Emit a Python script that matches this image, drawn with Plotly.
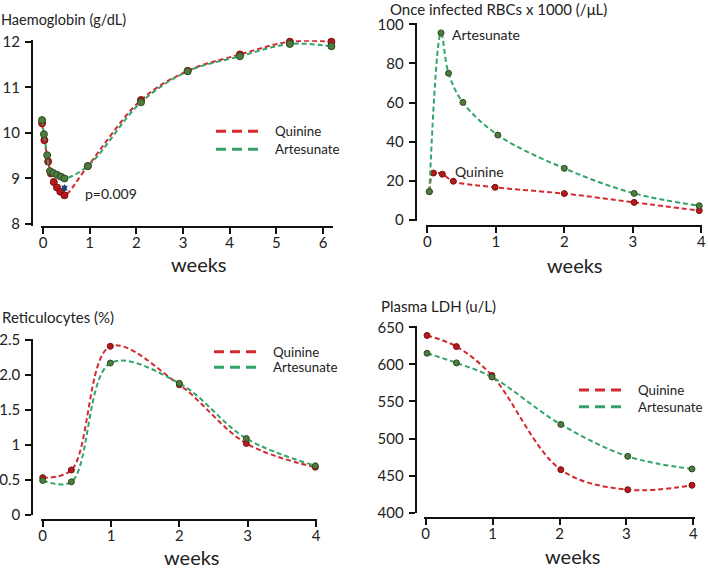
import plotly.graph_objects as go

# ---------------- data ----------------
hb_weeks_q = [-0.02, 0.03, 0.11, 0.17, 0.23, 0.30, 0.37, 0.46, 0.96, 2.10, 3.10, 4.22, 5.29, 6.18]
hb_quinine = [10.21, 9.84, 9.37, 9.11, 8.92, 8.80, 8.71, 8.63, 9.27, 10.72, 11.36, 11.72, 12.0, 12.0]
hb_weeks_a = [-0.02, 0.02, 0.09, 0.15, 0.22, 0.30, 0.38, 0.46, 0.96, 2.10, 3.10, 4.22, 5.29, 6.18]
hb_artesunate = [10.28, 9.97, 9.51, 9.16, 9.12, 9.08, 9.04, 9.00, 9.27, 10.67, 11.35, 11.68, 11.95, 11.90]
hb_ticks = [0, 1, 2, 3, 4, 5, 6]
hb_yticks = [8, 9, 10, 11, 12]

rbc_weeks_q = [0.03, 0.09, 0.22, 0.38, 0.99, 2.00, 3.02, 3.97]
rbc_quinine = [14.5, 24.0, 23.4, 19.8, 16.7, 13.5, 9.0, 4.8]
rbc_weeks_a = [0.03, 0.20, 0.31, 0.52, 1.03, 2.00, 3.02, 3.97]
rbc_artesunate = [14.5, 95.6, 75.0, 60.1, 43.4, 26.4, 13.6, 7.3]
rbc_yticks = [0, 20, 40, 60, 80, 100]

ret_weeks = [0.0, 0.42, 0.99, 2.00, 2.98, 3.99]
ret_quinine = [0.53, 0.64, 2.41, 1.86, 1.02, 0.68]
ret_artesunate = [0.49, 0.47, 2.17, 1.88, 1.09, 0.70]
ret_yticks = [0, 0.5, 1, 1.5, 2, 2.5]
ret_yticktext = ["0", "0.5", "1", "1.5", "2.0", "2.5"]

ldh_weeks = [0.02, 0.46, 0.99, 2.02, 3.02, 3.98]
ldh_quinine = [639, 624, 585, 458, 431, 437]
ldh_artesunate = [615, 602, 583, 519, 476, 459]
ldh_yticks = [400, 450, 500, 550, 600, 650]

week_ticks4 = [0, 1, 2, 3, 4]
p_value_text = "p=0.009"

# ---------------- styling / layout helpers ----------------
W, H = 708, 568
FONT = "Lato"
RED_LINE, GREEN_LINE = "#d22a2f", "#33a468"
RED_MK, GREEN_MK = "#b5191e", "#4f7c3c"
RED_MK_EDGE, GREEN_MK_EDGE = "#7a1010", "#2e4a25"


def fx(px):
    return px / W


def fy(py):
    return 1 - py / H


def xdomain(pa, va, pb, vb, r0, r1):
    s = (pb - pa) / (vb - va)
    return [fx(pa + (r0 - va) * s), fx(pa + (r1 - va) * s)]


def ydomain(pa, va, pb, vb, r0, r1):
    s = (pb - pa) / (vb - va)
    return [fy(pa + (r0 - va) * s), fy(pa + (r1 - va) * s)]


axis_common = dict(
    showline=True, linecolor="#111", linewidth=2,
    ticks="outside", ticklen=6, tickwidth=2, tickcolor="#111",
    showgrid=False, zeroline=False, fixedrange=True, automargin=False,
    tickfont=dict(family=FONT, size=15, color="#222"),
)
xaxis_common = dict(axis_common, ticklabelstandoff=-4)
yaxis_common = dict(axis_common, ticklabelstandoff=2)

fig = go.Figure()


def add_series(xs, ys, xa, ya, color, mk, edge, size):
    fig.add_trace(go.Scatter(
        x=xs, y=ys, xaxis=xa, yaxis=ya, mode="lines+markers",
        line=dict(color=color, width=2, dash="5px,3px", shape="spline", smoothing=1.0),
        marker=dict(color=mk, size=size, line=dict(color=edge, width=1)),
        cliponaxis=False, showlegend=False, hoverinfo="skip",
    ))


# panel 1 Haemoglobin
add_series(hb_weeks_q, hb_quinine, "x", "y", RED_LINE, RED_MK, RED_MK_EDGE, 7)
add_series(hb_weeks_a, hb_artesunate, "x", "y", GREEN_LINE, GREEN_MK, GREEN_MK_EDGE, 7)
# panel 2 once infected RBCs
add_series(rbc_weeks_q, rbc_quinine, "x2", "y2", RED_LINE, RED_MK, RED_MK_EDGE, 6)
add_series(rbc_weeks_a, rbc_artesunate, "x2", "y2", GREEN_LINE, GREEN_MK, GREEN_MK_EDGE, 6)
# panel 3 reticulocytes
add_series(ret_weeks, ret_quinine, "x3", "y3", RED_LINE, RED_MK, RED_MK_EDGE, 6)
add_series(ret_weeks, ret_artesunate, "x3", "y3", GREEN_LINE, GREEN_MK, GREEN_MK_EDGE, 6)
# panel 4 LDH
add_series(ldh_weeks, ldh_quinine, "x4", "y4", RED_LINE, RED_MK, RED_MK_EDGE, 6)
add_series(ldh_weeks, ldh_artesunate, "x4", "y4", GREEN_LINE, GREEN_MK, GREEN_MK_EDGE, 6)

# axes
xr1 = [-0.05, 6.22]
yr1 = [7.95, 12.03]
xr2 = [-0.02, 4.01]
yr2 = [-0.5, 100.5]
xr3 = [-0.02, 4.02]
yr3 = [0, 2.52]
xr4 = [-0.03, 4.02]
yr4 = [400, 652]

fig.update_layout(
    xaxis=dict(xaxis_common, domain=xdomain(43, 0, 323, 6, *xr1), range=xr1, tickvals=hb_ticks,
               anchor="free", position=fy(227)),
    yaxis=dict(yaxis_common, domain=ydomain(41.7, 12, 224, 8, *yr1), range=yr1, tickvals=hb_yticks,
               anchor="free", position=fx(32)),
    xaxis2=dict(xaxis_common, domain=xdomain(427.3, 0, 701.3, 4, *xr2), range=xr2, tickvals=week_ticks4,
                anchor="free", position=fy(225.7)),
    yaxis2=dict(yaxis_common, domain=ydomain(24.3, 100, 220, 0, *yr2), range=yr2, tickvals=rbc_yticks,
                anchor="free", position=fx(415.7)),
    xaxis3=dict(xaxis_common, domain=xdomain(42.7, 0, 316, 4, *xr3), range=xr3, tickvals=week_ticks4,
                anchor="free", position=fy(520)),
    yaxis3=dict(yaxis_common, domain=ydomain(340, 2.5, 514.7, 0, *yr3), range=yr3, tickvals=ret_yticks,
                ticktext=ret_yticktext, anchor="free", position=fx(32.3)),
    xaxis4=dict(xaxis_common, domain=xdomain(425.7, 0, 693.3, 4, *xr4), range=xr4, tickvals=week_ticks4,
                anchor="free", position=fy(518.3)),
    yaxis4=dict(yaxis_common, domain=ydomain(327.3, 650, 512.7, 400, *yr4), range=yr4, tickvals=ldh_yticks,
                anchor="free", position=fx(415.7)),
)

annotations = []
shapes = []


def text(s, px, py, size=14, xanchor="left"):
    annotations.append(dict(
        text=s, x=fx(px), y=fy(py), xref="paper", yref="paper", xanchor=xanchor, yanchor="middle",
        showarrow=False, font=dict(family=FONT, size=size, color="#222"),
    ))


# titles
text("Haemoglobin (g/dL)", -1, 20, 14.5)
text("Once infected RBCs x 1000 (/μL)", 388, 8.5, 15)
text("Reticulocytes (%)", 0, 317, 15)
text("Plasma LDH (u/L)", 379, 305.7, 15)
# x titles
for cx, cy in [(199, 264), (575, 265), (192.5, 556.5), (573, 555.5)]:
    text("weeks", cx, cy, 20, "center")

# panel 2 labels
text("Artesunate", 450, 35, 14)
text("Quinine", 453, 171.7, 14)

# p-value
text(p_value_text, 83, 193, 14)
annotations.append(dict(
    x=hb_weeks_q[7], y=hb_quinine[7] + 0.07, ax=hb_weeks_a[7], ay=hb_artesunate[7] - 0.09,
    xref="x", yref="y", axref="x", ayref="y", text="", showarrow=True,
    arrowhead=2, arrowsize=0.8, arrowwidth=1.6, arrowcolor="#1f3c7a", arrowside="end+start",
))

# legends
def legend(x0, x1, y_red, y_green, tx):
    for yy, col, lab in [(y_red, RED_LINE, "Quinine"), (y_green, GREEN_LINE, "Artesunate")]:
        shapes.append(dict(type="line", xref="paper", yref="paper", x0=fx(x0), x1=fx(x1),
                           y0=fy(yy), y1=fy(yy), line=dict(color=col, width=3, dash="10px,6px")))
        text(lab, tx, yy, 13.3)


legend(216, 258, 131.3, 149.3, 273)
legend(214, 258, 351.7, 367.3, 271)
legend(579, 622, 390, 406.7, 635.5)

fig.update_layout(
    width=W, height=H, margin=dict(l=0, r=0, t=0, b=0),
    paper_bgcolor="white", plot_bgcolor="white",
    annotations=annotations, shapes=shapes, showlegend=False,
    font=dict(family=FONT, color="#222"),
)

fig.write_html(
    "out.html", config={"displayModeBar": False},
    post_script="document.body.style.margin='0px';document.body.style.overflow='hidden';",
)
